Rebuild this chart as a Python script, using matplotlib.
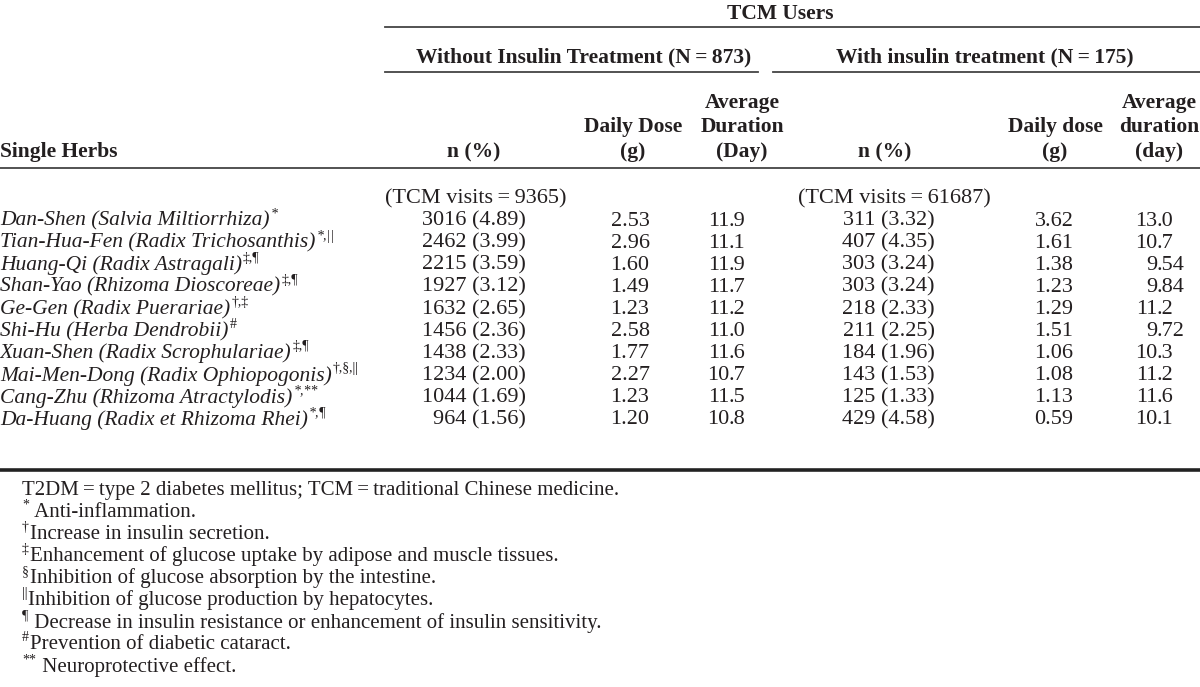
import matplotlib.pyplot as plt

# table data
herbs = ["Dan-Shen (Salvia Miltiorrhiza)", "Tian-Hua-Fen (Radix Trichosanthis)",
         "Huang-Qi (Radix Astragali)", "Shan-Yao (Rhizoma Dioscoreae)",
         "Ge-Gen (Radix Puerariae)", "Shi-Hu (Herba Dendrobii)",
         "Xuan-Shen (Radix Scrophulariae)", "Mai-Men-Dong (Radix Ophiopogonis)",
         "Cang-Zhu (Rhizoma Atractylodis)", "Da-Huang (Radix et Rhizoma Rhei)"]
marks = ["*", "*,||", "‡,¶", "‡,¶", "†,‡", "#", "‡,¶", "†,§,||", "*,**", "*,¶"]
n_wo = [3016, 2462, 2215, 1927, 1632, 1456, 1438, 1234, 1044, 964]
pct_wo = [4.89, 3.99, 3.59, 3.12, 2.65, 2.36, 2.33, 2.00, 1.69, 1.56]
dose_wo = [2.53, 2.96, 1.60, 1.49, 1.23, 2.58, 1.77, 2.27, 1.23, 1.20]
dur_wo = [11.9, 11.1, 11.9, 11.7, 11.2, 11.0, 11.6, 10.7, 11.5, 10.8]
n_w = [311, 407, 303, 303, 218, 211, 184, 143, 125, 429]
pct_w = [3.32, 4.35, 3.24, 3.24, 2.33, 2.25, 1.96, 1.53, 1.33, 4.58]
dose_w = [3.62, 1.61, 1.38, 1.23, 1.29, 1.51, 1.06, 1.08, 1.13, 0.59]
dur_w = [13.0, 10.7, 9.54, 9.84, 11.2, 9.72, 10.3, 11.2, 11.6, 10.1]
visits = [9365, 61687]
groups = ["Without Insulin Treatment (N\u2009=\u2009873)", "With insulin treatment (N\u2009=\u2009175)"]
footnotes = [("", "T2DM\u2009=\u2009type 2 diabetes mellitus; TCM\u2009=\u2009traditional Chinese medicine."),
             ("*", " Anti-inflammation."),
             ("†", "Increase in insulin secretion."),
             ("‡", "Enhancement of glucose uptake by adipose and muscle tissues."),
             ("§", "Inhibition of glucose absorption by the intestine."),
             ("||", "Inhibition of glucose production by hepatocytes."),
             ("¶", " Decrease in insulin resistance or enhancement of insulin sensitivity."),
             ("#", "Prevention of diabetic cataract."),
             ("**", " Neuroprotective effect.")]

plt.rcParams['font.family'] = ['Liberation Serif', 'DejaVu Serif']
INK = '#231f20'
FS = 15.5      # headers, names
FN = 16        # numbers
FF = 15        # footnotes

fig = plt.figure(figsize=(12, 6.87), dpi=100)
ax = fig.add_axes([0, 0, 1, 1])
ax.set_xlim(0, 1200)
ax.set_ylim(687, 0)
ax.axis('off')

def t(x, y, s, **kw):
    kw.setdefault('fontsize', FS)
    kw.setdefault('color', INK)
    kw.setdefault('va', 'center')
    return ax.text(x, y, s, **kw)

def dec(x, y, v):
    # decimal-aligned number, 3 significant figures
    s = '%.2f' % v if v < 10 else '%.1f' % v
    a, b = s.split('.')
    t(x, y, a, ha='right', fontsize=FN)
    t(x, y, '.' + b, ha='left', fontsize=FN)

# rules
ax.plot([385, 1200], [27, 27], color='#444444', lw=1.3)
ax.plot([385, 758], [72, 72], color='#444444', lw=1.3)
ax.plot([773, 1200], [72, 72], color='#444444', lw=1.3)
ax.plot([0, 1200], [168, 168], color='#444444', lw=1.3)
ax.plot([0, 1200], [470, 470], color='#222222', lw=2.6)

t(780, 14, 'TCM Users', ha='center', weight='bold')
t(584, 57, groups[0], ha='center', weight='bold')
t(985, 57, groups[1], ha='center', weight='bold')

t(0, 152, 'Single Herbs', ha='left', weight='bold')
t(474, 152, 'n (%)', ha='center', weight='bold')
t(633, 127, 'Daily Dose', ha='center', weight='bold')
t(633, 152, '(g)', ha='center', weight='bold')
t(742, 103, 'Average', ha='center', weight='bold')
t(742, 127, 'Duration', ha='center', weight='bold')
t(742, 152, '(Day)', ha='center', weight='bold')
t(885, 152, 'n (%)', ha='center', weight='bold')
t(1055, 127, 'Daily dose', ha='center', weight='bold')
t(1055, 152, '(g)', ha='center', weight='bold')
t(1159, 103, 'Average', ha='center', weight='bold')
t(1159, 127, 'duration', ha='center', weight='bold')
t(1159, 152, '(day)', ha='center', weight='bold')

t(385, 199, '(TCM visits\u2009=\u2009%d)' % visits[0], ha='left', fontsize=FN)
t(798, 199, '(TCM visits\u2009=\u2009%d)' % visits[1], ha='left', fontsize=FN)

fig.canvas.draw()
r = fig.canvas.get_renderer()

y0, dy = 221, 22.1
for i, h in enumerate(herbs):
    y = y0 + i * dy
    nm = t(0, y, h, ha='left', style='italic')
    x1 = nm.get_window_extent(r).x1
    t(x1 + 1, y - 7, marks[i], ha='left', fontsize=10, style='italic' if '*' in marks[i] else 'normal')
    t(526, y, '%d (%.2f)' % (n_wo[i], pct_wo[i]), ha='right', fontsize=FN)
    t(630, y, '%.2f' % dose_wo[i], ha='center', fontsize=FN)
    dec(729, y, dur_wo[i])
    t(935, y, '%d (%.2f)' % (n_w[i], pct_w[i]), ha='right', fontsize=FN)
    t(1054, y, '%.2f' % dose_w[i], ha='center', fontsize=FN)
    dec(1157, y, dur_w[i])

fy0, fdy = 490, 22.1
for i, (m, s) in enumerate(footnotes):
    y = fy0 + i * fdy
    x = 22
    if m:
        mk = t(x, y - 7, m, ha='left', fontsize=10)
        x = mk.get_window_extent(r).x1 + 1
    t(x, y, s, ha='left', fontsize=FF)

fig.savefig('out.png', dpi=100)
